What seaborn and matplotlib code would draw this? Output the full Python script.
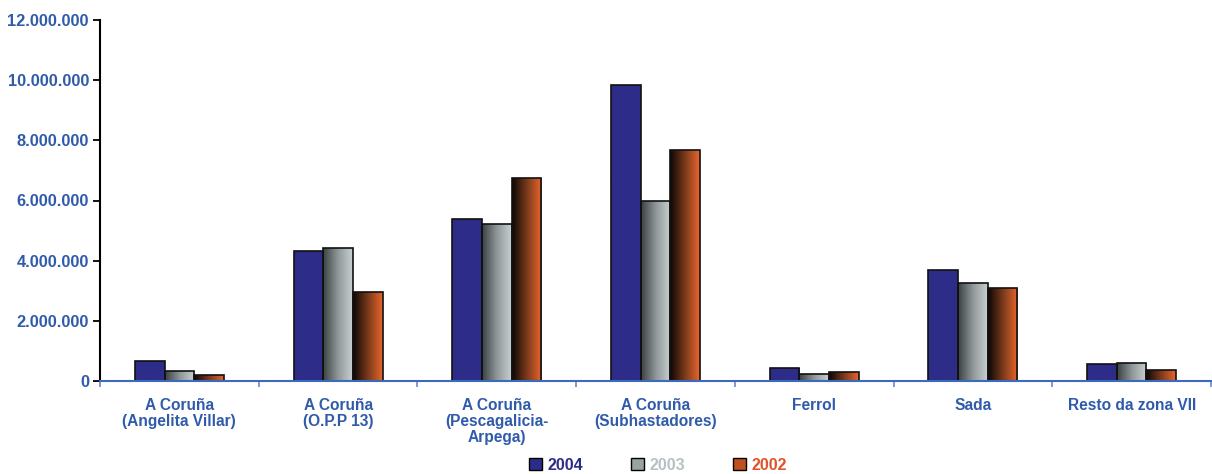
import numpy as np
import pandas as pd
import matplotlib
matplotlib.use("Agg")
import matplotlib.pyplot as plt
from matplotlib.colors import LinearSegmentedColormap
from matplotlib.patches import Patch
from matplotlib.ticker import FuncFormatter, FixedLocator
import seaborn as sns

# data
lonxas = ["A Coruña\n(Angelita Villar)", "A Coruña\n(O.P.P 13)",
          "A Coruña\n(Pescagalicia-\nArpega)", "A Coruña\n(Subhastadores)",
          "Ferrol", "Sada", "Resto da zona VII"]
anos = ["2004", "2003", "2002"]
v2004 = [660000, 4320000, 5380000, 9830000, 430000, 3690000, 560000]
v2003 = [330000, 4420000, 5220000, 5980000, 230000, 3260000, 600000]
v2002 = [200000, 2950000, 6750000, 7670000, 300000, 3090000, 370000]

df = pd.DataFrame({
    "lonxa": lonxas * 3,
    "ano": [a for a in anos for _ in lonxas],
    "valor": v2004 + v2003 + v2002,
})

BLUE_TXT = "#2F5BAA"
NAVY = "#2D2C88"
cmaps = {
    "2004": LinearSegmentedColormap.from_list("c04", [NAVY, NAVY]),
    "2003": LinearSegmentedColormap.from_list("c03", ["#3c4244", "#8f9799", "#c9d0d2"]),
    "2002": LinearSegmentedColormap.from_list("c02", ["#0d0805", "#7a3a1c", "#e8652c"]),
}
mid = {"2004": NAVY, "2003": "#9aa2a4", "2002": "#c0501f"}
txtcol = {"2004": NAVY, "2003": "#b8c0c4", "2002": "#e0522a"}

sns.set_style("white")
plt.rcParams["font.family"] = ["Liberation Sans", "DejaVu Sans"]
plt.rcParams["font.weight"] = "bold"

fig = plt.figure(figsize=(12.12, 4.74), dpi=100)
ax = fig.add_axes([100 / 1212, 1 - 381 / 474, 1 - 101 / 1212, (381 - 20) / 474])

sns.barplot(data=df, x="lonxa", y="valor", hue="ano", hue_order=anos,
            palette=mid, width=0.56, gap=0.0, ax=ax, legend=False,
            edgecolor="#111111", linewidth=1.2, saturation=1)

# gradient fill clipped to each bar
grad = np.linspace(0, 1, 64).reshape(1, -1)
for i, cont in enumerate(ax.containers):
    cm = cmaps[anos[i]]
    for bar in cont:
        x0, y0 = bar.get_x(), bar.get_y()
        w, h = bar.get_width(), bar.get_height()
        im = ax.imshow(grad, cmap=cm, aspect="auto", extent=[x0, x0 + w, y0, y0 + h],
                       zorder=bar.get_zorder() - 0.1, interpolation="bilinear")
        im.set_clip_path(bar)
        bar.set_facecolor("none")

ax.set_xlim(-0.5, 6.5)
ax.set_ylim(0, 12000000)
ax.set_yticks(np.arange(0, 12000001, 2000000))
ax.yaxis.set_major_formatter(FuncFormatter(lambda v, p: f"{int(v):,}".replace(",", ".")))
ax.set_xlabel("")
ax.set_ylabel("")

# category labels centred, ticks at the boundaries
ax.set_xticks(range(len(lonxas)))
ax.set_xticklabels(lonxas, color=BLUE_TXT, fontsize=11.2, fontweight="bold", linespacing=1.1)
ax.tick_params(axis="x", which="major", length=0, pad=12)
ax.xaxis.set_minor_locator(FixedLocator(np.arange(-0.5, 6.6, 1.0)))
ax.tick_params(axis="x", which="minor", bottom=True, length=4, color="#5a7fc4", width=1.1)
ax.tick_params(axis="y", left=True, length=5, width=1.3, color="black",
               labelcolor=BLUE_TXT, labelsize=11.8, pad=3)
for t in ax.get_yticklabels():
    t.set_fontweight("bold")

for s in ["top", "right"]:
    ax.spines[s].set_visible(False)
ax.spines["left"].set_color("black")
ax.spines["left"].set_linewidth(1.5)
ax.spines["bottom"].set_color("#3C6ABE")
ax.spines["bottom"].set_linewidth(1.5)

handles = [Patch(facecolor=mid[a], edgecolor="black", linewidth=1) for a in anos]
leg = fig.legend(handles, anos, loc="center", bbox_to_anchor=(658 / 1212, 1 - 465 / 474),
                 ncol=3, frameon=False, fontsize=11.5, handlelength=0.8, handleheight=0.8,
                 handletextpad=0.35, columnspacing=3.0, borderpad=0)
for t, a in zip(leg.get_texts(), anos):
    t.set_color(txtcol[a])
    t.set_fontweight("bold")

fig.savefig("out.png", dpi=100)
